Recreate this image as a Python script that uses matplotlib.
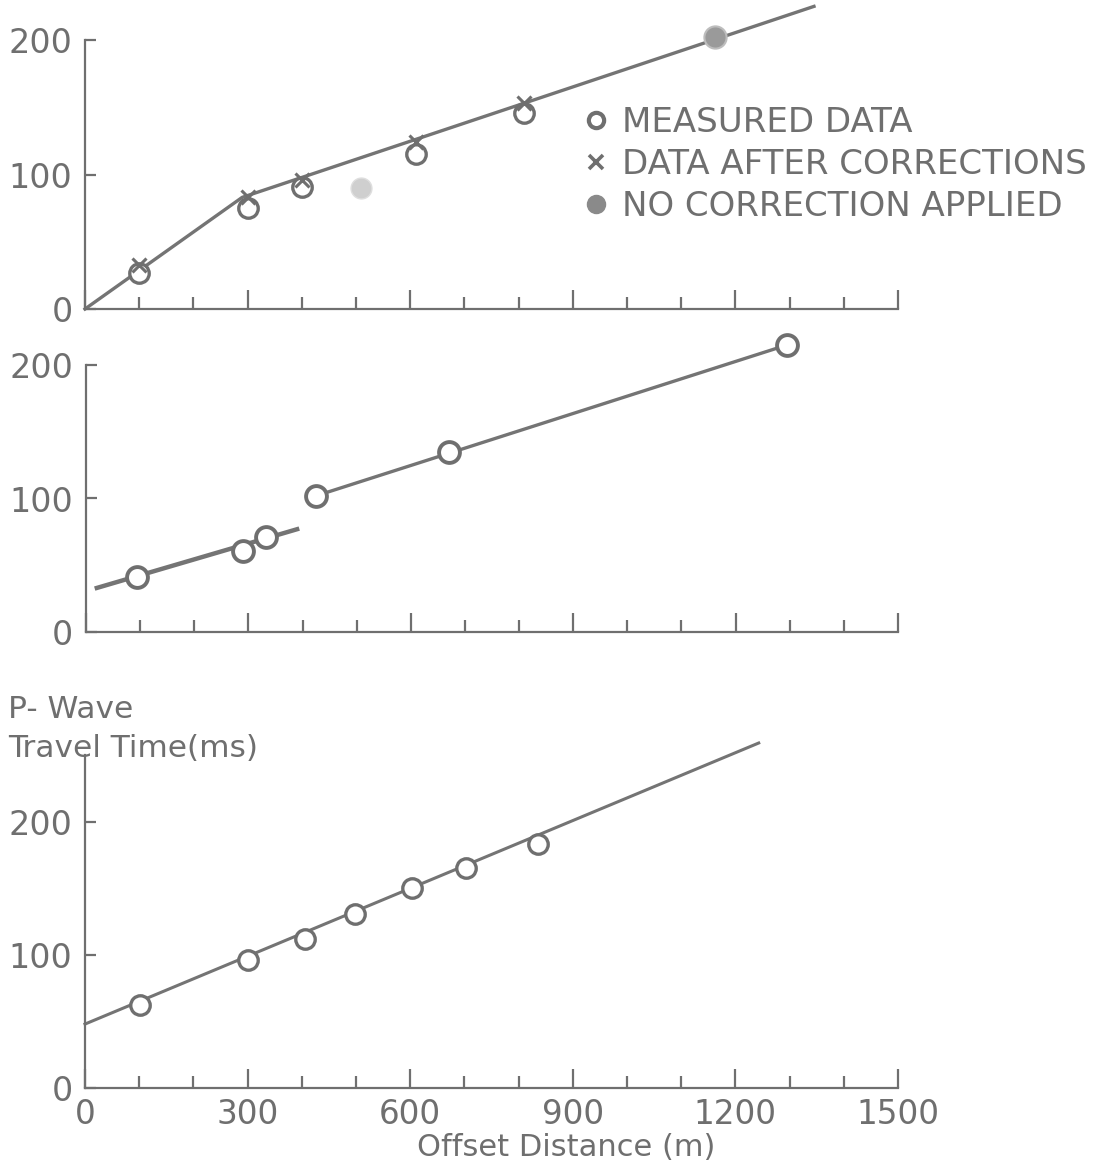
import matplotlib
matplotlib.use("Agg")
import matplotlib.pyplot as plt
from matplotlib.lines import Line2D
from matplotlib.ticker import MultipleLocator

# ---------------- data ----------------
# Panel 1
p1_meas_x = [100, 300, 400, 610, 810]
p1_meas_y = [27, 75, 91, 115, 146]
p1_corr_x = [100, 300, 400, 610, 810]
p1_corr_y = [33, 83, 96, 124, 153]
p1_nocorr_x = [1162]
p1_nocorr_y = [202]
p1_faint_x = [510]
p1_faint_y = [90]
p1_line_x = [0, 290, 1345]
p1_line_y = [0, 83, 225]

# Panel 2
p2_meas_x = [95, 290, 333, 425, 670, 1295]
p2_meas_y = [41, 61, 71, 102, 135, 215]
p2_lineA_x = [20, 390]
p2_lineA_y = [33, 77]
p2_lineB_x = [425, 1295]
p2_lineB_y = [102, 215]

# Panel 3
p3_meas_x = [102, 301, 405, 499, 603, 703, 836]
p3_meas_y = [62, 96, 112, 131, 150, 165, 183]
p3_line_x = [0, 1243]
p3_line_y = [48, 259]

x_ticks = [0, 300, 600, 900, 1200, 1500]
x_ticklabels = ["0", "300", "600", "900", "1200", "1500"]
y_ticks = [0, 100, 200]
y_ticklabels = ["0", "100", "200"]

legend_labels = ["MEASURED DATA", "DATA AFTER CORRECTIONS", "NO CORRECTION APPLIED"]

# ---------------- style ----------------
C = "#6f6f6f"
LC = "#747474"
W, H = 1114, 1167
plt.rcParams["font.family"] = ["DejaVu Sans"]

fig = plt.figure(figsize=(W / 100, H / 100), dpi=100)
fig.patch.set_facecolor("white")


def px_axes(left, right, y0px, ytop_px):
    return fig.add_axes([left / W, 1 - y0px / H, (right - left) / W, (y0px - ytop_px) / H])


def style(ax, ymax, spine_top, xlabels):
    ax.set_xlim(0, 1500)
    ax.set_ylim(0, ymax)
    for s in ["top", "right"]:
        ax.spines[s].set_visible(False)
    for s in ["left", "bottom"]:
        ax.spines[s].set_color(C)
        ax.spines[s].set_linewidth(1.6)
    ax.spines["left"].set_bounds(0, spine_top)
    ax.xaxis.set_minor_locator(MultipleLocator(100))
    ax.set_xticks(x_ticks)
    ax.tick_params(axis="x", which="major", direction="in", length=14, width=1.6, color=C,
                   labelsize=23.5, labelcolor=C, pad=7, labelbottom=xlabels)
    ax.tick_params(axis="x", which="minor", direction="in", length=9, width=1.6, color=C)
    if xlabels:
        ax.set_xticklabels(x_ticklabels)
    ax.set_yticks(y_ticks)
    ax.set_yticklabels(y_ticklabels)
    ax.tick_params(axis="y", which="major", direction="in", length=8, width=1.6, color=C,
                   labelsize=24, labelcolor=C, pad=9)
    ax.yaxis.set_minor_locator(plt.NullLocator())
    ax.patch.set_alpha(0)


circ = dict(marker="o", linestyle="none", markersize=14, markerfacecolor="white",
            markeredgecolor=C, markeredgewidth=2.4, clip_on=False, zorder=3)

# Panel 1
ax1 = px_axes(85, 898, 309, 40)
style(ax1, 200, 200, False)
ax1.plot(p1_line_x, p1_line_y, color=LC, lw=2.4, clip_on=False, zorder=2)
ax1.plot(p1_meas_x, p1_meas_y, **circ)
ax1.plot(p1_corr_x, p1_corr_y, marker="x", linestyle="none", markersize=10,
         markeredgecolor=C, markeredgewidth=2.2, clip_on=False, zorder=4)
ax1.plot(p1_nocorr_x, p1_nocorr_y, marker="o", linestyle="none", markersize=16,
         markerfacecolor="#9a9a9a", markeredgecolor="#bdbdbd", markeredgewidth=1.5,
         clip_on=False, zorder=3)
ax1.plot(p1_faint_x, p1_faint_y, marker="o", linestyle="none", markersize=15,
         markerfacecolor="#cfcfcf", markeredgecolor="#dedede", markeredgewidth=1.0,
         clip_on=False, zorder=3)

handles = [
    Line2D([], [], marker="o", linestyle="none", markersize=11, markerfacecolor="white",
           markeredgecolor=C, markeredgewidth=3),
    Line2D([], [], marker="x", linestyle="none", markersize=10, markeredgecolor=C,
           markeredgewidth=2.6),
    Line2D([], [], marker="o", linestyle="none", markersize=13, markerfacecolor="#8a8a8a",
           markeredgecolor="#8a8a8a"),
]
leg = fig.legend(handles, legend_labels, loc="upper left",
                 bbox_to_anchor=(580 / W, 1 - 106 / H), frameon=False,
                 fontsize=24.5, handlelength=0.95, handletextpad=0.27,
                 labelspacing=0.26, borderpad=0, borderaxespad=0)
for t in leg.get_texts():
    t.set_color(C)

# Panel 2
ax2 = px_axes(86, 898, 632, 365)
style(ax2, 200, 200, False)
ax2.plot(p2_lineA_x, p2_lineA_y, color=LC, lw=3.2, clip_on=False, zorder=2)
ax2.plot(p2_lineB_x, p2_lineB_y, color=LC, lw=2.4, clip_on=False, zorder=2)
ax2.plot(p2_meas_x, p2_meas_y, **dict(circ, markeredgewidth=2.8, markersize=15))

# Panel 3
ax3 = px_axes(85, 898, 1088, 755)
style(ax3, 250, 250, True)
ax3.plot(p3_line_x, p3_line_y, color=LC, lw=2.2, clip_on=False, zorder=2)
ax3.plot(p3_meas_x, p3_meas_y, **circ)

fig.text(566 / W, 1 - 1148 / H, "Offset Distance (m)", fontsize=22, color=C,
         ha="center", va="center")
fig.text(8 / W, 1 - 718 / H, "P- Wave", fontsize=22.5, color=C, va="baseline", ha="left")
fig.text(8 / W, 1 - 757 / H, "Travel Time(ms)", fontsize=22.5, color=C, va="baseline", ha="left")

fig.savefig("out.png", dpi=100, facecolor="white")
